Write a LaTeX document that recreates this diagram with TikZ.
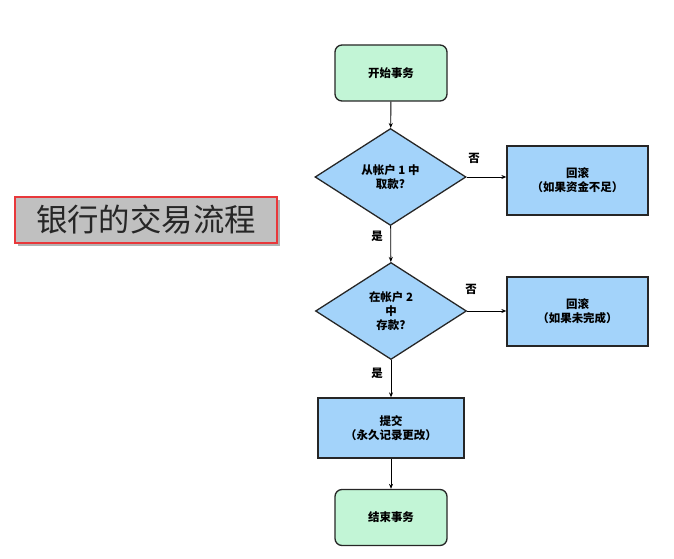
\documentclass[tikz,border=0pt]{standalone}
\usepackage{fontspec}
\setmainfont{Noto Sans CJK SC}
\usetikzlibrary{shapes.geometric,arrows.meta}
\definecolor{startgreen}{HTML}{C2F5D6}
\definecolor{procblue}{HTML}{A3D3FA}
\definecolor{titlegray}{HTML}{C0C0C0}
\definecolor{titlered}{HTML}{E8383B}
\tikzset{
  chart/.style={font=\fontsize{11.5}{14}\selectfont\bfseries, align=center, draw=black!85, line width=1.3pt},
  terminal/.style={chart, fill=startgreen, rounded corners=7bp, minimum width=112bp, minimum height=56bp},
  process/.style={chart, fill=procblue, minimum width=141bp, minimum height=69bp},
  decision/.style={chart, fill=procblue, diamond, minimum width=151bp, minimum height=97bp, inner sep=0pt, aspect=1.56},
  flow/.style={draw=black, line width=0.9pt, -{Stealth[length=5bp,width=4bp]}},
  lbl/.style={font=\fontsize{11.5}{14}\selectfont\bfseries}
}
\begin{document}
\begin{tikzpicture}[x=1bp,y=-1bp]
\useasboundingbox (0,0) rectangle (674,559);
% title
\fill[black!30] (18,200) rectangle (280,246);
\node[fill=titlegray, draw=titlered, line width=1.2pt, minimum width=262bp, minimum height=46bp, inner sep=0pt,
  font=\fontsize{31.5}{34}\selectfont, text=black!85] (title) at (146,220) {银行的交易流程};
% flow
\node[terminal] (start) at (391,73) {开始事务};
\node[decision] (d1) at (390.5,177) {从帐户 1 中\\取款?};
\node[process] (r1) at (577.5,180.5) {回滚\\（如果资金不足）};
\node[decision] (d2) at (391,311) {在帐户 2\\中\\存款?};
\node[process] (r2) at (577.5,311.5) {回滚\\（如果未完成）};
\node[process, minimum width=146bp, minimum height=60bp] (commit) at (391,428) {提交\\（永久记录更改）};
\node[terminal] (end) at (391,517.5) {结束事务};
\draw[flow] (start) -- (d1);
\draw[flow] (d1.east) -- (d1.east -| r1.west);
\draw[flow] (d1) -- (d2);
\draw[flow] (d2.east) -- (d2.east -| r2.west);
\draw[flow] (d2) -- (commit);
\draw[flow] (commit) -- (end);
\node[lbl] (no1) at (474,158) {否};
\node[lbl] (yes1) at (377,236) {是};
\node[lbl] (no2) at (471,289) {否};
\node[lbl] (yes2) at (377,373) {是};
\end{tikzpicture}
\end{document}
